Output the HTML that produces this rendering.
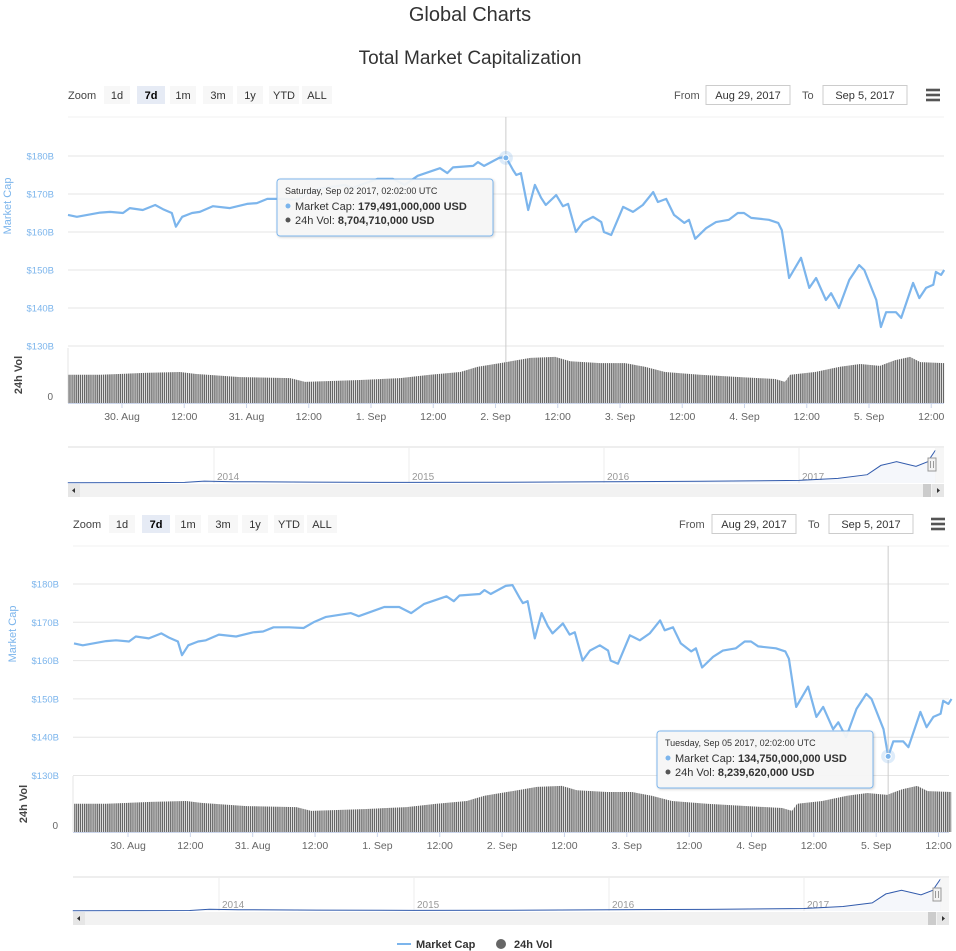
<!DOCTYPE html>
<html><head><meta charset="utf-8"><style>
html,body{margin:0;padding:0;background:#fff;}
svg{display:block;font-family:"Liberation Sans",sans-serif;}
</style></head><body>
<svg id="s" width="956" height="951" viewBox="0 0 956 951" xmlns="http://www.w3.org/2000/svg">
<defs>
<pattern id="stripes" patternUnits="userSpaceOnUse" width="2.1" height="10"><rect x="0" y="0" width="1.35" height="10" fill="#666"/></pattern>
<filter id="sh" x="-10%" y="-10%" width="130%" height="140%"><feDropShadow dx="1" dy="1" stdDeviation="1.2" flood-color="#000" flood-opacity="0.18"/></filter>
</defs>
<text x="470" y="21" text-anchor="middle" font-size="20" fill="#333">Global Charts</text>
<text x="470" y="64" text-anchor="middle" font-size="19" fill="#333">Total Market Capitalization</text>
<g id="c1"></g>
<g id="c2"></g>
<g>
<g><line x1="397" y1="944" x2="411" y2="944" stroke="#7cb5ec" stroke-width="2"/><text x="416" y="948" font-size="11" font-weight="bold" fill="#333">Market Cap</text></g>
<g><circle cx="501" cy="944" r="5" fill="#666"/><text x="514" y="948" font-size="11" font-weight="bold" fill="#333">24h Vol</text></g>
</g>
</svg>
<script>
// Market cap series: hours since Aug 29 2017 00:00 UTC, values in $B
const mcHours = [13.6,15.3,19.8,21.7,24.2,25.5,28.0,30.4,31.9,33.6,34.4,35.6,37.5,39.0,41.5,44.8,48.1,50.0,52.0,55.0,57.8,59.7,62.1,66.9,68.4,73.3,76.2,78.5,81.0,85.3,86.7,87.8,91.7,92.6,93.8,96.7,98.0,99.4,100.0,100.9,102.3,103.6,104.8,105.7,107.7,109.0,110.0,111.5,112.9,114.8,116.4,116.9,118.3,120.6,122.5,124.4,126.4,127.3,128.9,130.4,132.4,133.3,134.5,136.6,138.5,141.0,142.7,143.9,145.3,148.7,150.5,151.2,152.6,154.9,156.5,157.8,159.7,160.7,162.2,164.2,166.1,167.1,169.4,170.3,171.3,173.2,174.2,176.5,177.7,179.0,180.4,180.9,181.9,182.5];
const mcValues = [164.5,164,165.1,165.3,165,166.3,165.8,167.1,166,165,161.4,164,165,165.3,166.8,166.3,167.4,167.6,168.7,168.7,168.5,170,171.4,172.4,171.6,174,174,172.4,174.8,176.8,175.5,177,177.4,178.4,177.4,179.5,179.7,176.3,175,175.5,165.8,172.4,169,167.1,169.7,166.8,167.4,160,162.6,164,162.6,160,159.2,166.6,165.3,167.1,170.5,167.9,168.7,164.5,162.4,163.2,158.2,161,162.6,163.2,165,165,163.7,163.2,162.4,160.5,147.9,153.2,145.3,147.9,142.1,143.9,140,147.4,151.3,150,142.1,135,138.9,138.9,137.4,146.6,142.6,145.3,146.1,149.5,148.7,150];
// 24h volume series: hours, values in $B
const volHours = [13.6,19.8,28.4,35.2,38.1,46.8,56.4,59.3,69.9,77.6,83.4,89.2,92.6,96.9,98.0,102.7,107.5,110.4,116.2,121.0,124.8,128.7,135.4,143.2,149.9,151.8,152.8,157.6,162.4,166.3,170.1,173.0,175.9,177.9,182.5];
const volValues = [6.0,6.0,6.4,6.6,6.2,5.5,5.3,4.5,4.9,5.3,6.0,6.6,7.7,8.5,8.7,9.6,9.8,8.9,8.5,8.5,7.7,6.6,6.0,5.5,5.1,4.5,6.0,6.6,7.7,8.3,7.9,9.1,9.8,8.7,8.5];
// Navigator series: year, value $B
const navYears = [2013.25,2013.6,2013.85,2013.95,2014.1,2014.5,2015.0,2015.5,2016.0,2016.5,2017.0,2017.2,2017.35,2017.42,2017.5,2017.56,2017.6,2017.66,2017.7];
const navValues = [1.5,2,3,10,7,5,3.5,4,7,9,14,25,45,95,115,100,90,115,178];
const yTicks = [180,170,160,150,140,130];
const xTickHours = [24,36,48,60,72,84,96,108,120,132,144,156,168,180];
const xTickLabels = ["30. Aug","12:00","31. Aug","12:00","1. Sep","12:00","2. Sep","12:00","3. Sep","12:00","4. Sep","12:00","5. Sep","12:00"];
const navYearTicks = [2014,2015,2016,2017];
const zoomLabels = ["1d","7d","1m","3m","1y","YTD","ALL"];

const NS="http://www.w3.org/2000/svg";
function mk(parent,tag,attrs,txt){const e=document.createElementNS(NS,tag);for(const k in attrs)e.setAttribute(k,attrs[k]);if(txt!==undefined)e.textContent=txt;parent.appendChild(e);return e;}

function draw(g,G){
  const X=h=>G.x24+(h-24)*G.pph;
  const Y=v=>G.y180+(180-v)*G.ppb;
  const VY=v=>G.vBase-v*G.vpb;
  const NX=y=>G.nx2014+(y-2014)*G.npy;
  const NY=v=>G.nBot-v*G.npv;
  let t=mk(g,'text',{x:G.L,y:G.btnY+4,'font-size':11,fill:'#444'},'Zoom');
  
  
  const bx=[36,69,102,135,169,201,234], bw=[26,28,26,30,26,30,30];
  zoomLabels.forEach((lab,i)=>{
    const b=mk(g,'g',{});
    
    
    mk(b,'rect',{x:G.L+bx[i],y:G.btnY-9,width:bw[i],height:18,fill:i==1?'#e6ebf5':'#f7f7f7'});
    mk(b,'text',{x:G.L+bx[i]+bw[i]/2,y:G.btnY+4,'font-size':11,'text-anchor':'middle',fill:i==1?'#000':'#333','font-weight':i==1?'bold':'normal'},lab);
  });
  t=mk(g,'text',{x:G.fromX,y:G.btnY+4,'font-size':11,fill:'#555'},'From');
  
  
  let ib=mk(g,'g',{});
  
  
  mk(ib,'rect',{x:G.fromBox,y:G.btnY-9.5,width:84,height:19,fill:'#fff',stroke:'#ccc'});
  mk(ib,'text',{x:G.fromBox+42,y:G.btnY+4,'font-size':11,'text-anchor':'middle',fill:'#333'},'Aug 29, 2017');
  t=mk(g,'text',{x:G.toX,y:G.btnY+4,'font-size':11,fill:'#555'},'To');
  
  
  ib=mk(g,'g',{});
  
  
  mk(ib,'rect',{x:G.toBox,y:G.btnY-9.5,width:84,height:19,fill:'#fff',stroke:'#ccc'});
  mk(ib,'text',{x:G.toBox+42,y:G.btnY+4,'font-size':11,'text-anchor':'middle',fill:'#333'},'Sep 5, 2017');
  const menu=mk(g,'g',{});
  
  
  [-5,0,5].forEach(d=>mk(menu,'rect',{x:G.menuX-7,y:G.btnY+d-1.3,width:14,height:2.6,fill:'#555'}));
  mk(g,'line',{x1:G.L,x2:G.R,y1:G.top,y2:G.top,stroke:'#f0f0f0'});
  yTicks.forEach(v=>{
    const l=mk(g,'line',{x1:G.L,x2:G.R,y1:Y(v),y2:Y(v),stroke:'#e6e6e6'});
    
    
    const tx=mk(g,'text',{x:G.L-14,y:Y(v)+3.5,'font-size':9.5,'text-anchor':'end',fill:'#7cb5ec'},'$'+v+'B');
    
    
  });
  t=mk(g,'text',{transform:`translate(${G.L-57},${G.y180+50}) rotate(-90)`,'font-size':11,'text-anchor':'middle',fill:'#7cb5ec'},'Market Cap');
  
  
  t=mk(g,'text',{transform:`translate(${G.L-46},${G.vBase-28}) rotate(-90)`,'font-size':11,'font-weight':'bold','text-anchor':'middle',fill:'#444'},'24h Vol');
  
  
  t=mk(g,'text',{x:G.L-15,y:G.vBase-3,'font-size':10,'text-anchor':'end',fill:'#666'},'0');
  
  
  mk(g,'line',{x1:G.L,x2:G.L,y1:G.vTop,y2:G.vBase,stroke:'#e6e6e6'});
  let d='M'+X(volHours[0])+','+G.vBase;
  volHours.forEach((h,i)=>{d+=' L'+X(h).toFixed(1)+','+VY(volValues[i]).toFixed(1);});
  d+=' L'+X(volHours[volHours.length-1])+','+G.vBase+' Z';
  const va=mk(g,'path',{d:d,fill:'url(#stripes)'});
  
  
  d='';
  mcHours.forEach((h,i)=>{d+=(i?' L':'M')+X(h).toFixed(1)+','+Y(mcValues[i]).toFixed(1);});
  const ln=mk(g,'path',{d:d,fill:'none',stroke:'#7cb5ec','stroke-width':2.2,'stroke-linejoin':'round'});
  
  
  mk(g,'line',{x1:G.L,x2:G.R,y1:G.vBase+0.5,y2:G.vBase+0.5,stroke:'#ccd6eb'});
  xTickHours.forEach((h,i)=>{
    mk(g,'line',{x1:X(h),x2:X(h),y1:G.vBase,y2:G.vBase+5,stroke:'#ccd6eb'});
    const tx=mk(g,'text',{x:X(h),y:G.vBase+17,'font-size':10.5,'text-anchor':'middle',fill:'#666'},xTickLabels[i]);
    
    
  });
  const nav=mk(g,'g',{});
  
  
  mk(nav,'line',{x1:G.L,x2:G.R,y1:G.nTop,y2:G.nTop,stroke:'#ddd'});
  navYearTicks.forEach(yr=>{
    mk(nav,'line',{x1:NX(yr),x2:NX(yr),y1:G.nTop,y2:G.nBot,stroke:'#eee'});
    mk(nav,'text',{x:NX(yr)+3,y:G.nBot-3,'font-size':10,fill:'#999'},String(yr));
  });
  d='';
  navYears.forEach((yr,i)=>{d+=(i?' L':'M')+NX(yr).toFixed(1)+','+NY(navValues[i]).toFixed(1);});
  const nl=mk(nav,'path',{d:d,fill:'none',stroke:'#335cad','stroke-width':1});
  
  
  d+=' L'+NX(navYears[navYears.length-1]).toFixed(1)+','+G.nBot+' L'+NX(navYears[0]).toFixed(1)+','+G.nBot+' Z';
  mk(nav,'path',{d:d,fill:'#335cad','fill-opacity':0.05,stroke:'none'});
  mk(nav,'rect',{x:G.R-9,y:G.nTop,width:9,height:G.nBot-G.nTop,fill:'#f0f0f0','fill-opacity':0.6});
  const hd=mk(nav,'g',{});
  
  
  mk(hd,'rect',{x:G.R-16,y:G.nTop+11,width:8,height:13,fill:'#f2f2f2',stroke:'#999'});
  mk(hd,'line',{x1:G.R-13.5,x2:G.R-13.5,y1:G.nTop+14,y2:G.nTop+21,stroke:'#999'});
  mk(hd,'line',{x1:G.R-10.5,x2:G.R-10.5,y1:G.nTop+14,y2:G.nTop+21,stroke:'#999'});
  const sb=mk(g,'g',{});
  
  
  mk(sb,'rect',{x:G.L,y:G.nBot+1,width:G.R-G.L,height:13,fill:'#f2f2f2'});
  mk(sb,'rect',{x:G.R-21,y:G.nBot+1,width:8,height:13,fill:'#ccc'});
  mk(sb,'rect',{x:G.L,y:G.nBot+1,width:12,height:13,fill:'#e6e6e6'});
  mk(sb,'path',{d:`M${G.L+7},${G.nBot+5} l-3,2.5 l3,2.5 Z`,fill:'#333'});
  mk(sb,'rect',{x:G.R-12,y:G.nBot+1,width:12,height:13,fill:'#e6e6e6'});
  mk(sb,'path',{d:`M${G.R-7},${G.nBot+5} l3,2.5 l-3,2.5 Z`,fill:'#333'});
  const cx=X(G.hoverH), cy=Y(G.hoverV);
  mk(g,'line',{x1:cx,x2:cx,y1:G.top,y2:G.vBase,stroke:'#ccc'});
  mk(g,'circle',{cx:cx,cy:cy,r:7,fill:'#7cb5ec','fill-opacity':0.25});
  const mkr=mk(g,'circle',{cx:cx,cy:cy,r:3,fill:'#7cb5ec',stroke:'#fff'});
  
  
  const tt=mk(g,'g',{});
  
  
  mk(tt,'rect',{x:G.ttX,y:G.ttY,width:216,height:57,rx:3,fill:'#f7f7f7','fill-opacity':0.92,stroke:'#7cb5ec',filter:'url(#sh)'});
  mk(tt,'text',{x:G.ttX+8,y:G.ttY+15,'font-size':9,fill:'#333'},G.ttDate);
  mk(tt,'circle',{cx:G.ttX+11,cy:G.ttY+27,r:2.5,fill:'#7cb5ec'});
  let tl=mk(tt,'text',{x:G.ttX+18,y:G.ttY+31,'font-size':11,fill:'#333'},'Market Cap: ');
  mk(tl,'tspan',{'font-weight':'bold'},G.ttMC);
  mk(tt,'circle',{cx:G.ttX+11,cy:G.ttY+41,r:2.5,fill:'#555'});
  tl=mk(tt,'text',{x:G.ttX+18,y:G.ttY+45,'font-size':11,fill:'#333'},'24h Vol: ');
  mk(tl,'tspan',{'font-weight':'bold'},G.ttVol);
}
draw(document.getElementById('c1'),{L:68,R:944,x24:122,pph:124.5/24,y180:156,ppb:3.8,top:117,vTop:348,vBase:403,vpb:4.7,
  nTop:447,nBot:483,nx2014:214,npy:195,npv:0.185,btnY:95,fromX:674,fromBox:706,toX:802,toBox:823,menuX:933,
  hoverH:98.0,hoverV:179.5,ttX:277,ttY:179,ttDate:'Saturday, Sep 02 2017, 02:02:00 UTC',ttMC:'179,491,000,000 USD',ttVol:'8,704,710,000 USD'});
draw(document.getElementById('c2'),{L:73,R:949,x24:128,pph:124.7/24,y180:584,ppb:3.83,top:546,vTop:776,vBase:832,vpb:4.7,
  nTop:877,nBot:911,nx2014:219,npy:195,npv:0.18,btnY:524,fromX:679,fromBox:712,toX:808,toBox:829,menuX:938,
  hoverH:170.3,hoverV:135,ttX:657,ttY:731,ttDate:'Tuesday, Sep 05 2017, 02:02:00 UTC',ttMC:'134,750,000,000 USD',ttVol:'8,239,620,000 USD'});
</script>
</body></html>
